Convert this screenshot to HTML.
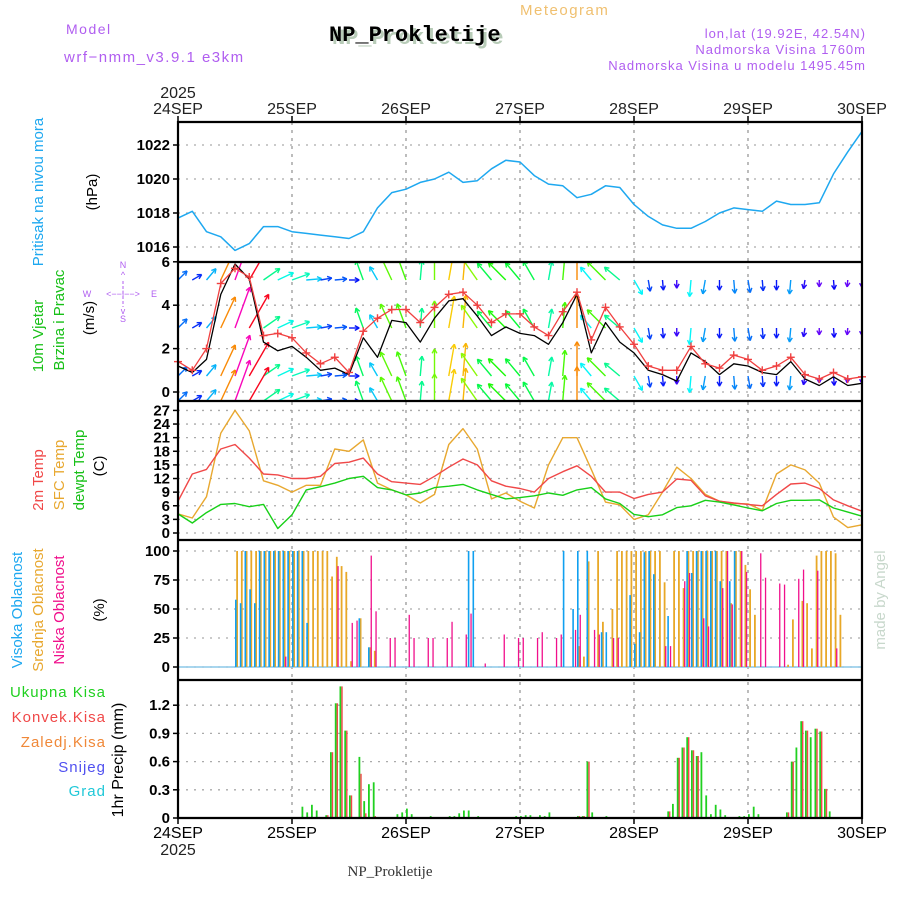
<!DOCTYPE html>
<html><head><meta charset="utf-8"><style>
html,body{margin:0;padding:0;background:#fff;}
svg{display:block;font-family:"Liberation Sans",sans-serif;}
</style></head><body>
<svg id="chart" width="900" height="900" viewBox="0 0 900 900" xmlns="http://www.w3.org/2000/svg">
<g id="header">
<text x="66" y="34" font-size="14" fill="#b05ef0" letter-spacing="1.5">Model</text>
<text x="64" y="62" font-size="15" fill="#b05ef0" letter-spacing="1.5">wrf−nmm_v3.9.1 e3km</text>
<text x="332" y="44" font-size="22" font-weight="bold" fill="#b8ccb8" font-family="Liberation Mono,monospace">NP_Prokletije</text>
<text x="329" y="41" font-size="22" font-weight="bold" fill="#000" font-family="Liberation Mono,monospace">NP_Prokletije</text>
<text x="520" y="15" font-size="15" fill="#f0c070" letter-spacing="1.5">Meteogram</text>
<text x="866" y="38" font-size="13" fill="#b05ef0" text-anchor="end" letter-spacing="1">lon,lat (19.92E, 42.54N)</text>
<text x="866" y="54" font-size="13" fill="#b05ef0" text-anchor="end" letter-spacing="1">Nadmorska Visina 1760m</text>
<text x="866" y="70" font-size="13" fill="#b05ef0" text-anchor="end" letter-spacing="1">Nadmorska Visina u modelu 1495.45m</text>
</g>
<g id="labels" font-size="14"></g>
<g id="grid"></g>
<g id="marks"></g>
<g id="frame"></g>
</svg>
<script>
// ---- data ----
const days = ["24SEP","25SEP","26SEP","27SEP","28SEP","29SEP","30SEP"];
const pressure = [1017.7,1018.1,1016.9,1016.6,1015.8,1016.2,1017.2,1017.2,1016.9,1016.8,1016.7,1016.6,1016.5,1016.9,1018.3,1019.2,1019.4,1019.8,1020.0,1020.4,1019.8,1019.9,1020.6,1021.1,1021.0,1020.2,1019.7,1019.6,1018.9,1019.1,1019.6,1019.5,1018.5,1017.8,1017.3,1017.1,1017.1,1017.5,1018.0,1018.3,1018.2,1018.1,1018.7,1018.5,1018.5,1018.6,1020.3,1021.6,1022.8];
const windSpeed = [1.2,0.9,1.5,4.5,5.9,5.2,2.3,1.9,2.1,1.6,1.0,1.1,0.8,2.5,1.6,3.3,3.2,2.3,3.4,4.2,4.3,3.5,2.6,3.0,2.7,2.6,2.2,3.2,4.5,1.8,3.2,2.3,1.8,1.0,0.8,0.5,1.8,1.4,0.8,1.3,1.2,0.9,0.8,1.4,0.6,0.3,0.7,0.3,0.4];
const windGust = [1.4,1.0,2.0,5.0,5.7,5.3,2.6,2.7,2.5,1.8,1.3,1.6,0.9,2.8,3.4,3.8,3.8,3.2,3.9,4.5,4.6,4.0,3.2,3.6,3.6,3.0,2.6,3.7,4.6,2.4,3.9,3.0,2.2,1.2,1.0,1.0,2.1,1.3,1.1,1.7,1.5,1.0,1.2,1.6,0.8,0.6,0.9,0.6,0.7];
const windDir = [45,60,40,25,20,30,55,65,70,85,80,85,90,-20,-30,-25,-20,5,0,10,5,-35,-40,-45,-40,-30,10,5,0,-40,-45,-50,150,170,175,180,185,190,180,175,170,175,180,185,190,180,175,185,180];
const tempT2 = [7,13,14,18.5,19.5,16.5,13,12.8,12,12,12.5,15.3,15.6,16.5,13,11.3,11,10.7,12.5,14.5,16.3,15,11.5,10.3,9.8,9,12,13.5,14.8,12.5,9,9,7.6,8.5,9,11.9,11.6,8.2,7,6.6,6.3,6,8.5,10.8,11,9.8,7.3,6,4.8];
const tempSfc = [4.2,3.3,8,22,27,22.5,11.5,10.5,9,10.5,10.5,18.5,18,20.5,11,9.5,8.4,6.6,8.5,19.5,23,18.5,7.5,8.8,7,5.5,15,21,21,14,6.8,6.2,3,4,9,14.5,12,8.5,7,6.5,6.4,5,13,15,13.9,11,3.5,1.2,1.8];
const tempDew = [4.2,2.2,4.5,6.3,6.5,5.8,6.3,1.0,4,9.5,10.2,11,12,12.5,10,9.5,8.4,8.8,10,10.3,10.7,9.5,8.5,7.5,7.8,8.2,8.8,8.3,9.5,10,7.5,6.5,4.1,3.6,4,5.6,6,7.2,6.8,6.2,5.5,4.9,6.5,7.2,7.2,7.3,5.5,4.6,3.7];
const highHours = [12,13,14,15,16,17,18,19,20,21,22,23,24,25,26,27,38,40,61,62,81,83,84,86,89,90,95,96,97,98,99,100,103,107,108,109,110,111,112,113,114,116,117];
const highVals =  [58,55,100,67,55,100,100,100,100,100,100,100,100,100,100,38,42,17,100,100,100,50,100,100,30,30,62,20,30,99,100,80,44,100,81,100,100,100,100,100,74,74,100];
const midHours = [12,13,14,15,16,17,18,19,20,21,22,23,24,25,26,27,28,29,30,31,32,33,34,35,36,38,40,41,84,85,86,88,89,91,92,93,94,95,96,97,98,99,100,101,102,104,105,106,107,108,109,110,111,112,113,114,115,116,117,118,119,120,121,128,129,131,132,133,134,135,136,137,138,139];
const midVals =  [100,100,100,100,100,100,100,100,100,100,100,100,100,100,100,100,100,100,100,100,78,95,87,82,5,42,17,14,18,9,91,100,39,50,100,100,100,100,100,100,100,100,100,100,73,100,100,68,100,100,100,100,100,100,100,100,100,55,100,100,88,67,45,2,41,57,55,16,96,100,100,100,98,45];
const lowHours = [22,33,36,37,40,41,44,45,48,49,52,53,56,57,60,61,64,68,71,72,75,76,79,80,83,84,87,88,91,92,102,103,106,107,110,111,114,115,116,118,119,122,123,126,127,130,131,134,138];
const lowVals =  [9,87,38,40,96,48,25,25,45,25,25,25,25,39,28,46,3,28,25,25,25,30,25,28,32,45,32,28,25,25,18,18,74,81,42,35,68,100,54,100,82,98,77,72,71,76,84,83,16];
const precipHours = [26,27,28,29,31,32,33,34,35,36,38,39,40,41,46,47,48,49,53,57,58,59,60,61,63,71,72,73,74,76,77,78,84,85,86,87,90,103,104,105,106,107,108,109,110,111,112,113,114,115,118,119,120,121,122,128,129,130,131,132,133,134,135,136,137];
const precipTotal = [0.12,0.06,0.14,0.08,0.03,0.7,1.22,1.4,0.93,0.24,0.65,0.18,0.36,0.38,0.04,0.06,0.1,0.04,0.02,0.02,0.02,0.05,0.08,0.08,0.02,0.02,0.02,0.03,0.03,0.03,0.02,0.06,0.02,0.02,0.6,0.06,0.02,0.07,0.15,0.64,0.75,0.86,0.72,0.66,0.70,0.24,0.04,0.14,0.09,0.03,0.02,0.02,0.04,0.12,0.04,0.06,0.6,0.75,1.03,0.93,0.86,0.95,0.92,0.31,0.07];
const precipConv = [0,0,0,0,0.03,0.7,1.22,1.4,0.93,0.24,0.47,0.05,0,0.02,0,0,0,0,0,0,0,0,0,0,0,0,0,0,0,0,0,0,0.02,0.02,0.6,0,0,0.07,0,0.64,0.75,0.86,0.72,0.66,0,0,0,0,0,0,0,0,0,0,0,0.06,0.6,0,1.03,0.93,0,0.95,0.92,0.31,0];
const pTicks = [1016,1018,1020,1022];
const wTicks = [0,2,4,6];
const tTicks = [0,3,6,9,12,15,18,21,24,27];
const cTicks = [0,25,50,75,100];
const rTicks = [0,0.3,0.6,0.9,1.2];
const rTickLabels = ["0","0.3","0.6","0.9","1.2"];

// ---- scales ----
const X0=178, X1=862, HOURS=144;
const xH = h => X0 + h*(X1-X0)/HOURS;
const xK = k => xH(k*3);
const yP = v => 247 - (v-1016)*17;
const yW = v => 392 - v*21.7;
const yT = v => 533 - v*4.54;
const yC = v => 667 - v*1.16;
const yR = v => 818 - v*94;
const NS="http://www.w3.org/2000/svg";
function mk(tag, attrs, parent){const e=document.createElementNS(NS,tag);for(const k in attrs)e.setAttribute(k,attrs[k]);parent.appendChild(e);return e;}
const grid=document.getElementById('grid'), marks=document.getElementById('marks'), frame=document.getElementById('frame'), labels=document.getElementById('labels');

function hgrid(ticks, yf, lbls, name){
  ticks.forEach((t,i)=>{
    const y=yf(t);
    const l=mk('line',{x1:X0,x2:X1,y1:y,y2:y,stroke:'#aaa','stroke-width':1.3,'stroke-dasharray':'2,6'},grid);
    
    
    mk('line',{x1:X0-5,x2:X0,y1:y,y2:y,stroke:'#000','stroke-width':1.5},grid);
    const tx=mk('text',{x:X0-8,y:y+5,'text-anchor':'end','font-size':15,'font-weight':'bold',fill:'#000'},labels);
    tx.textContent = lbls?lbls[i]:String(t);
    
    
  });
}
hgrid(pTicks,yP,null,'pressure');
hgrid(wTicks,yW,null,'wind');
hgrid(tTicks,yT,null,'temp');
hgrid(cTicks,yC,null,'cloud');
hgrid(rTicks,yR,rTickLabels,'precip');
days.forEach((d,i)=>{
  const x=xH(i*24);
  if(i>0&&i<6){
    const l=mk('line',{x1:x,x2:x,y1:122,y2:818,stroke:'#999','stroke-width':1.3,'stroke-dasharray':'3,5'},grid);
    
    
  }
  mk('line',{x1:x,x2:x,y1:116,y2:122,stroke:'#000','stroke-width':1.5},grid);
  mk('line',{x1:x,x2:x,y1:818,y2:824,stroke:'#000','stroke-width':1.5},grid);
  const t=mk('text',{x:x,y:114,'text-anchor':'middle','font-size':16,fill:'#222'},labels);
  t.textContent=d;
  
  
  const b=mk('text',{x:x,y:838,'text-anchor':'middle','font-size':16,fill:'#000'},labels);
  b.textContent=d;
  
  
});
[[178,98],[178,855]].forEach(p=>{const t=mk('text',{x:p[0],y:p[1],'text-anchor':'middle','font-size':16,fill:'#222'},labels);t.textContent='2025';

});

function line(arr, xf, yf, color, w, name){
  const d=arr.map((v,k)=>(k?'L':'M')+xf(k).toFixed(1)+','+yf(v).toFixed(1)).join('');
  const p=mk('path',{d:d,fill:'none',stroke:color,'stroke-width':w,'stroke-linejoin':'round'},marks);
  
  
  return p;
}
line(pressure,xK,yP,'#1ea8f0',1.5,'pressure-line');

// wind arrows (rows)
const cw=mk('clipPath',{id:'wclip'},marks); mk('rect',{x:X0,y:262,width:X1-X0,height:139},cw);
const wg=mk('g',{'clip-path':'url(#wclip)'},marks);
const hueFor = s => ((280 - s*55)%360+360)%360;
[280,328,376,401].forEach((by,r)=>{
  windSpeed.forEach((s,k)=>{
    const a=windDir[k]*Math.PI/180, L=5+s*6.5;
    const x=xK(k), x2=x+Math.sin(a)*L, y2=by-Math.cos(a)*L;
    const col='hsl('+hueFor(s)+',95%,50%)';
    const g=mk('g',{stroke:col,'stroke-width':1.4,fill:'none'},wg);
    
    
    mk('line',{x1:x,y1:by,x2:x2,y2:y2},g);
    const ha=a+Math.PI;
    [0.5,-0.5].forEach(o=>mk('line',{x1:x2,y1:y2,x2:x2+Math.sin(ha+o)*5,y2:y2-Math.cos(ha+o)*5},g));
  });
});
line(windSpeed,xK,yW,'#000',1.3,'wind-speed-line');
line(windGust,xK,yW,'#f04040',1.3,'wind-gust-line');
windGust.forEach((v,k)=>{
  const x=xK(k),y=yW(v);
  const g=mk('g',{stroke:'#f04040','stroke-width':1.4},marks);
  
  
  mk('line',{x1:x-4,x2:x+4,y1:y,y2:y},g);mk('line',{x1:x,x2:x,y1:y-4,y2:y+4},g);
});

line(tempSfc,xK,yT,'#e8a830',1.4,'sfc-temp-line');
line(tempT2,xK,yT,'#f04848',1.4,'t2m-line');
line(tempDew,xK,yT,'#18d018',1.4,'dewpoint-line');

mk('line',{x1:X0,x2:X1,y1:667,y2:667,stroke:'#8cc8e8','stroke-width':1.5},marks);
function bars(hours, vals, yf, off, w, color, name){
  hours.forEach((h,i)=>{
    const x=xH(h)+off, y=yf(vals[i]);
    const r=mk('rect',{x:x.toFixed(1),y:y.toFixed(1),width:w,height:(yf(0)-y).toFixed(1),fill:color},marks);
    
    
  });
}
bars(midHours,midVals,yC,1.2,1.8,'#e8a828','mid-cloud-bar');
bars(highHours,highVals,yC,0,1.6,'#10a0f0','high-cloud-bar');
bars(lowHours,lowVals,yC,2.6,1.3,'#f0108c','low-cloud-bar');

bars(precipHours,precipTotal,yR,0,1.8,'#20d020','total-precip-bar');
bars(precipHours,precipConv,yR,1.8,1.4,'#f04848','convective-precip-bar');

[122,262,401,540,680,818].forEach(y=>{const l=mk('line',{x1:X0-1,x2:X1+1,y1:y,y2:y,stroke:'#000','stroke-width':2.2},frame);

});
[X0,X1].forEach(x=>{const l=mk('line',{x1:x,x2:x,y1:121,y2:819,stroke:'#000','stroke-width':2.2},frame);

});

function vtext(txt,x,y,color,size,name){
  const t=mk('text',{x:x,y:y,transform:'rotate(-90 '+x+' '+y+')','text-anchor':'middle','font-size':size||15,fill:color},labels);
  t.textContent=txt;
  
  
}
vtext('Pritisak na nivou mora',43,192,'#1ea8f0',15,'pressure-title');
vtext('(hPa)',97,192,'#000',15,'pressure-unit');
vtext('10m Vjetar',43,336,'#18c018',15,'wind-title');
vtext('Brzina i Pravac',64,320,'#18c018',15,'wind-subtitle');
vtext('(m/s)',94,318,'#000',15,'wind-unit');
vtext('2m Temp',43,480,'#f04848',15,'t2m-title');
vtext('SFC Temp',64,475,'#e8a830',15,'sfc-title');
vtext('dewpt Temp',84,470,'#18c018',15,'dew-title');
vtext('(C)',104,466,'#000',15,'temp-unit');
vtext('Visoka Oblacnost',22,610,'#1ea8f0',15,'high-cloud-title');
vtext('Srednja Oblacnost',43,610,'#e8a830',15,'mid-cloud-title');
vtext('Niska Oblacnost',64,610,'#f0108c',15,'low-cloud-title');
vtext('(%)',104,610,'#000',15,'cloud-unit');
vtext('1hr Precip (mm)',123,760,'#000',16,'precip-title');
vtext('made by Angel',885,600,'#c8d8cc',15,'watermark');
const cmp=mk('g',{fill:'#b05ef0','font-size':9},labels);


[['N',123,268],['S',123,322],['W',87,297],['E',154,297],['^',123,278],['v',123,314],['<−−|−−>',123,297]].forEach(p=>{const t=mk('text',{x:p[1],y:p[2],'text-anchor':'middle'},cmp);t.textContent=p[0];});
mk('line',{x1:123,x2:123,y1:281,y2:307,stroke:'#b05ef0','stroke-dasharray':'3,2'},cmp);
[['Ukupna Kisa',697,'#20d020'],['Konvek.Kisa',722,'#f04848'],['Zaledj.Kisa',747,'#f08838'],['Snijeg',772,'#5050f0'],['Grad',796,'#20c8d8']].forEach(p=>{
  const t=mk('text',{x:106,y:p[1],'text-anchor':'end','font-size':15,fill:p[2],'letter-spacing':'1'},labels);
  t.textContent=p[0];
  
  
});
const ft=mk('text',{x:390,y:876,'text-anchor':'middle','font-size':15,fill:'#333','font-family':'Liberation Serif,serif'},labels);
ft.textContent='NP_Prokletije';


</script>
</body></html>
